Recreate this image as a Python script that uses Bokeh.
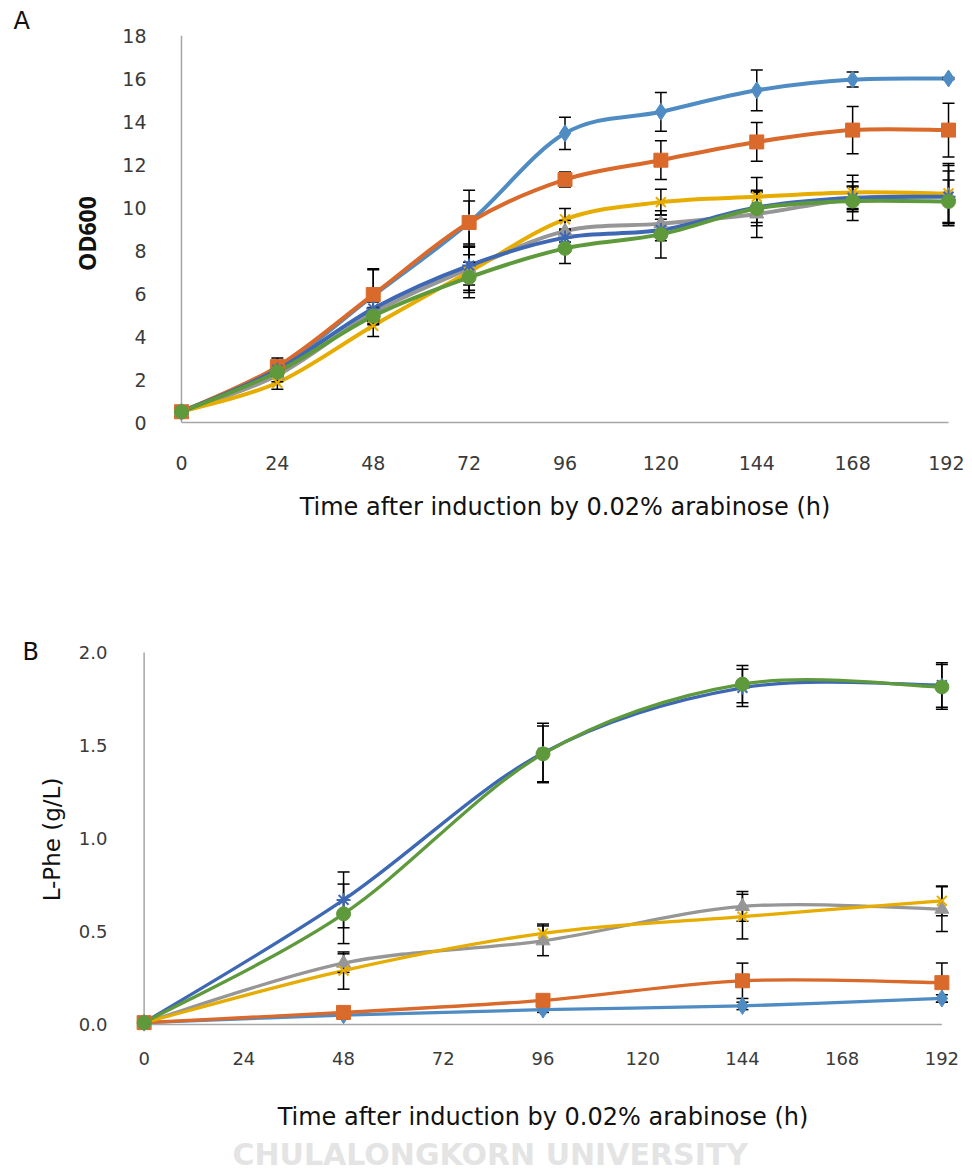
from bokeh.plotting import figure
from bokeh.models import Range1d, Title, FixedTicker, NumeralTickFormatter
from bokeh.embed import file_html
from bokeh.resources import INLINE

# ---------------- data ----------------
hours_a = [0, 24, 48, 72, 96, 120, 144, 168, 192]
od_s1 = [0.5, 2.5, 5.9, 9.3, 13.45, 14.45, 15.45, 15.95, 16.0]
od_s2 = [0.5, 2.6, 5.95, 9.3, 11.3, 12.2, 13.05, 13.6, 13.6]
od_s3 = [0.5, 2.2, 5.1, 7.15, 8.9, 9.25, 9.7, 10.4, 10.55]
od_s4 = [0.5, 1.85, 4.5, 7.0, 9.45, 10.25, 10.5, 10.7, 10.65]
od_s5 = [0.5, 2.45, 5.3, 7.3, 8.6, 8.95, 10.0, 10.45, 10.5]
od_s6 = [0.5, 2.35, 4.95, 6.75, 8.1, 8.75, 9.95, 10.3, 10.28]
od_e1 = [0.05, 0.3, 1.2, 1.5, 0.75, 0.9, 0.95, 0.35, 0.05]
od_e2 = [0.05, 0.4, 1.2, 1.0, 0.35, 0.9, 0.9, 1.1, 1.25]
od_e3 = [0.05, 0.3, 0.5, 1.0, 0.5, 0.4, 1.1, 0.6, 1.4]
od_e4 = [0.05, 0.3, 0.5, 1.2, 0.5, 0.6, 0.9, 0.8, 1.4]
od_e5 = [0.05, 0.3, 0.5, 0.9, 0.4, 0.5, 0.7, 0.5, 1.2]
od_e6 = [0.05, 0.3, 0.4, 0.7, 0.7, 1.1, 0.8, 0.9, 1.0]

hours_b = [0, 48, 96, 144, 192]
phe_s1 = [0.01, 0.05, 0.08, 0.10, 0.14]
phe_s2 = [0.01, 0.065, 0.13, 0.235, 0.225]
phe_s3 = [0.01, 0.33, 0.45, 0.635, 0.62]
phe_s4 = [0.01, 0.29, 0.49, 0.58, 0.665]
phe_s5 = [0.01, 0.67, 1.46, 1.81, 1.825]
phe_s6 = [0.01, 0.595, 1.455, 1.83, 1.815]
phe_e1 = [0.005, 0.02, 0.015, 0.02, 0.02]
phe_e2 = [0.005, 0.03, 0.02, 0.095, 0.105]
phe_e3 = [0.005, 0.05, 0.08, 0.08, 0.12]
phe_e4 = [0.005, 0.10, 0.05, 0.12, 0.08]
phe_e5 = [0.005, 0.15, 0.16, 0.10, 0.12]
phe_e6 = [0.005, 0.16, 0.15, 0.10, 0.12]

x_ticks = [0, 24, 48, 72, 96, 120, 144, 168, 192]
y_ticks_a = [0, 2, 4, 6, 8, 10, 12, 14, 16, 18]
y_ticks_b = [0.0, 0.5, 1.0, 1.5, 2.0]

x_title = "Time after induction by 0.02% arabinose (h)"
watermark = "CHULALONGKORN UNIVERSITY"

colors = ["#4F8CC4", "#D96A2B", "#969696", "#E6AC00", "#3E68B4", "#5E9A3C"]
markers = ["diamond", "square", "triangle", "x", "asterisk", "circle"]

FONT = "DejaVu Sans"


def smooth_segments(xs, ys):
    n = len(xs)
    out = dict(x0=[], y0=[], x1=[], y1=[], cx0=[], cy0=[], cx1=[], cy1=[])
    for i in range(n - 1):
        a = max(i - 1, 0)
        d = min(i + 2, n - 1)
        out["x0"].append(xs[i]); out["y0"].append(ys[i])
        out["x1"].append(xs[i + 1]); out["y1"].append(ys[i + 1])
        out["cx0"].append(xs[i] + (xs[i + 1] - xs[a]) / 6.0)
        out["cy0"].append(ys[i] + (ys[i + 1] - ys[a]) / 6.0)
        out["cx1"].append(xs[i + 1] - (xs[d] - xs[i]) / 6.0)
        out["cy1"].append(ys[i + 1] - (ys[d] - ys[i]) / 6.0)
    return out


def style(p, tick_size):
    for ax in (p.xaxis[0], p.yaxis[0]):
        ax.axis_line_color = None
        ax.major_tick_line_color = None
        ax.minor_tick_line_color = None
        ax.major_label_text_font = FONT
        ax.major_label_text_font_size = tick_size
        ax.major_label_text_color = "#3a3a3a"
        ax.axis_label_text_font = FONT
        ax.axis_label_text_color = "#111111"
        ax.axis_label_text_font_style = "normal"
    p.xgrid.grid_line_color = None
    p.ygrid.grid_line_color = None
    p.outline_line_color = None
    p.background_fill_color = "white"
    p.border_fill_color = "white"


def draw(p, xs, series, errs, lw, msize, ymax):
    p.line([0, 0], [0, ymax], line_color="#A6A6A6", line_width=1.5)
    p.line([0, xs[-1]], [0, 0], line_color="#A6A6A6", line_width=1.5)
    for ys, c in zip(series, colors):
        seg = smooth_segments(xs, ys)
        p.bezier(line_color=c, line_width=lw, line_cap="round", **seg)
    for ys, es in zip(series, errs):
        hi = [y + e for y, e in zip(ys, es)]
        lo = [y - e for y, e in zip(ys, es)]
        p.segment(x0=xs, y0=lo, x1=xs, y1=hi, line_color="black", line_width=1.5)
        p.scatter(xs, hi, marker="dash", size=12, line_color="black", line_width=1.5)
        p.scatter(xs, lo, marker="dash", size=12, line_color="black", line_width=1.5)
    for ys, c, m in zip(series, colors, markers):
        if m in ("x", "asterisk"):
            p.scatter(xs, ys, marker=m, size=msize, line_color=c, line_width=2)
        else:
            sz = msize + 3 if m == "diamond" else msize
            p.scatter(xs, ys, marker=m, size=sz, fill_color=c, line_color=c)


# ---------------- panel A ----------------
pA = figure(width=964, height=560, output_backend="svg", toolbar_location=None,
            x_range=Range1d(-4, 196),
            y_range=Range1d(-(431 - 422) / 21.5, 18),
            min_border_left=165, min_border_right=0, min_border_top=35, min_border_bottom=129)
style(pA, "19px")
pA.xaxis.ticker = FixedTicker(ticks=x_ticks)
pA.yaxis.ticker = FixedTicker(ticks=y_ticks_a)
pA.xaxis.major_label_standoff = 18
pA.yaxis.major_label_standoff = 13
pA.xaxis.axis_label = x_title
pA.yaxis.axis_label = "OD600"
pA.xaxis.axis_label_text_font_size = "24px"
pA.yaxis.axis_label_text_font = "Open Sans"
pA.yaxis.axis_label_text_font_size = "23px"
pA.yaxis.axis_label_text_font_style = "bold"
pA.xaxis.axis_label_standoff = 20
pA.yaxis.axis_label_standoff = 16
draw(pA, hours_a, [od_s1, od_s2, od_s3, od_s4, od_s5, od_s6],
     [od_e1, od_e2, od_e3, od_e4, od_e5, od_e6], 4, 14, 18)
pA.add_layout(Title(text="A", align="left", offset=-152, standoff=2,
                    text_font=FONT, text_font_size="24px", text_font_style="normal",
                    text_color="#111111"), "above")

# ---------------- panel B ----------------
pB = figure(width=964, height=612, output_backend="svg", toolbar_location=None,
            x_range=Range1d(-4, 196),
            y_range=Range1d(-(1032 - 1024) / 186.0, 2.0 + (652 - 646) / 186.0),
            min_border_left=127, min_border_right=6, min_border_top=86, min_border_bottom=140)
style(pB, "18px")
pB.xaxis.ticker = FixedTicker(ticks=x_ticks)
pB.yaxis.ticker = FixedTicker(ticks=y_ticks_b)
pB.yaxis.formatter = NumeralTickFormatter(format="0.0")
pB.xaxis.major_label_standoff = 13
pB.yaxis.major_label_standoff = 14
pB.xaxis.axis_label = x_title
pB.yaxis.axis_label = "L-Phe (g/L)"
pB.xaxis.axis_label_text_font_size = "24px"
pB.yaxis.axis_label_text_font_size = "23px"
pB.xaxis.axis_label_standoff = 35
pB.yaxis.axis_label_standoff = 11
draw(pB, hours_b, [phe_s1, phe_s2, phe_s3, phe_s4, phe_s5, phe_s6],
     [phe_e1, phe_e2, phe_e3, phe_e4, phe_e5, phe_e6], 3.3, 14, 2.0)
pB.add_layout(Title(text="B", align="left", offset=-105, standoff=-38,
                    text_font=FONT, text_font_size="24px", text_font_style="normal",
                    text_color="#111111"), "above")
pB.add_layout(Title(text=watermark, align="left", offset=105, standoff=2,
                    text_font=FONT, text_font_size="30px", text_font_style="bold",
                    text_color="#E4E4E4"), "below")

open("out.html", "w").write(file_html([pA, pB], INLINE))
